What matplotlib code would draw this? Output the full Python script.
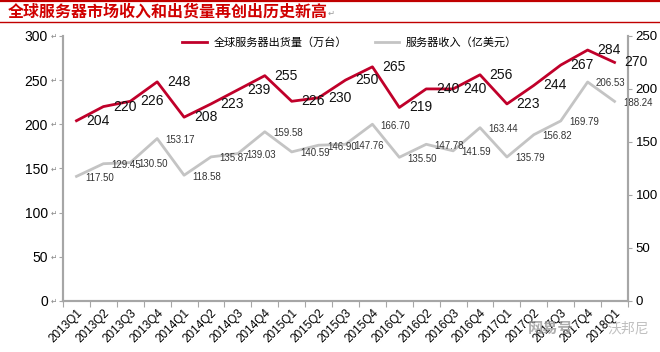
import matplotlib.pyplot as plt
import numpy as np
from matplotlib.lines import Line2D

plt.rcParams["font.family"] = ["Liberation Sans", "Noto Sans CJK SC", "DejaVu Sans"]

QUARTERS = [
    "2013Q1", "2013Q2", "2013Q3", "2013Q4", "2014Q1", "2014Q2", "2014Q3",
    "2014Q4", "2015Q1", "2015Q2", "2015Q3", "2015Q4", "2016Q1", "2016Q2",
    "2016Q3", "2016Q4", "2017Q1", "2017Q2", "2017Q3", "2017Q4", "2018Q1",
]
SHIPMENTS = [204, 220, 226, 248, 208, 223, 239, 255, 226, 230, 250,
             265, 219, 240, 240, 256, 223, 244, 267, 284, 270]
REVENUE = [117.50, 129.45, 130.50, 153.17, 118.58, 135.87, 139.03, 159.58,
           140.59, 146.90, 147.76, 166.70, 135.50, 147.78, 141.59, 163.44,
           135.79, 156.82, 169.79, 206.53, 188.24]
LEFT_TICKS = [0, 50, 100, 150, 200, 250, 300]
RIGHT_TICKS = [0, 50, 100, 150, 200, 250]

RED = "#c0002a"
GRAY = "#c4c4c4"
AXIS_GRAY = "#a6a6a6"
CJK = ["Noto Sans CJK SC", "DejaVu Sans"]


def main():
    fig = plt.figure(figsize=(6.6, 3.52), dpi=100)

    # header: title and the red rules
    fig.add_artist(Line2D([0, 1], [0.996, 0.996], color="#c00000", lw=1.6))
    fig.add_artist(Line2D([0, 1], [0.938, 0.938], color="#c00000", lw=1.0))
    fig.text(0.012, 0.968, "全球服务器市场收入和出货量再创出历史新高", color="#d00000",
             fontsize=11.5, fontweight="bold", family=CJK, va="center")
    fig.text(0.497, 0.960, "↵", color="#999999", fontsize=6, va="center")

    ax = fig.add_axes([0.0955, 0.145, 0.856, 0.753])
    ax2 = ax.twinx()
    x = np.arange(len(QUARTERS))

    ax.plot(x, SHIPMENTS, color=RED, lw=2.0, zorder=3)
    ax2.plot(x, REVENUE, color=GRAY, lw=2.0, zorder=2)

    for xi, v in zip(x, SHIPMENTS):
        ax.annotate(str(v), (xi, v), xytext=(7, 0), textcoords="offset points",
                    ha="left", va="center", fontsize=10, color="#111111", zorder=5)
    for xi, v in zip(x, REVENUE):
        ax2.annotate(f"{v:.2f}", (xi, v), xytext=(6, -1), textcoords="offset points",
                     ha="left", va="center", fontsize=7, color="#333333", zorder=5)

    ax.set_xlim(-0.5, len(QUARTERS) - 0.5)
    ax.set_ylim(0, 300)
    ax2.set_ylim(0, 250)

    # category ticks sit between the quarters, labels in the middle
    ax.set_xticks(np.arange(len(QUARTERS) + 1) - 0.5)
    ax.set_xticklabels([])
    ax.set_xticks(x, minor=True)
    ax.set_xticklabels(QUARTERS, minor=True, rotation=45, ha="right",
                       rotation_mode="anchor", fontsize=8.5)
    ax.tick_params(axis="x", which="major", length=4, color=AXIS_GRAY, direction="out")
    ax.tick_params(axis="x", which="minor", length=0, pad=4)

    ax.set_yticks(LEFT_TICKS)
    ax.set_yticklabels([str(t) for t in LEFT_TICKS], fontsize=10)
    ax.tick_params(axis="y", length=3, color=AXIS_GRAY, pad=8)
    ax2.set_yticks(RIGHT_TICKS)
    ax2.set_yticklabels([str(t) for t in RIGHT_TICKS], fontsize=9.5)
    ax2.tick_params(axis="y", length=3, color=AXIS_GRAY, pad=2.5)

    # small paragraph marks left over from the word processor
    for t in LEFT_TICKS:
        ax.annotate("↵", (0, t), xycoords=ax.get_yaxis_transform(), xytext=(-4, -1),
                    textcoords="offset points", ha="right", va="center",
                    fontsize=5.5, color="#888888", annotation_clip=False)

    for a in (ax, ax2):
        a.spines["top"].set_visible(False)
        for side in ("left", "right", "bottom"):
            a.spines[side].set_color(AXIS_GRAY)
            a.spines[side].set_linewidth(1.5)
    ax.set_zorder(ax2.get_zorder() + 1)
    ax.patch.set_visible(False)

    handles = [Line2D([], [], color=RED, lw=2), Line2D([], [], color=GRAY, lw=2)]
    fig.legend(handles, ["全球服务器出货量（万台）", "服务器收入（亿美元）"],
               loc="center", bbox_to_anchor=(0.53, 0.878), ncol=2, frameon=False,
               prop={"family": CJK, "size": 8}, handlelength=2.2, columnspacing=2.5,
               handletextpad=0.6)

    # watermark
    fig.text(0.80, 0.055, "网易号", color="#9a9a9a", alpha=0.8, fontsize=11,
             family=CJK, fontweight="bold")
    fig.text(0.92, 0.055, "沃邦尼", color="#b0b0b0", alpha=0.8, fontsize=10,
             family=CJK)

    fig.savefig("out.png", dpi=100)
    plt.close(fig)


if __name__ == "__main__":
    main()
